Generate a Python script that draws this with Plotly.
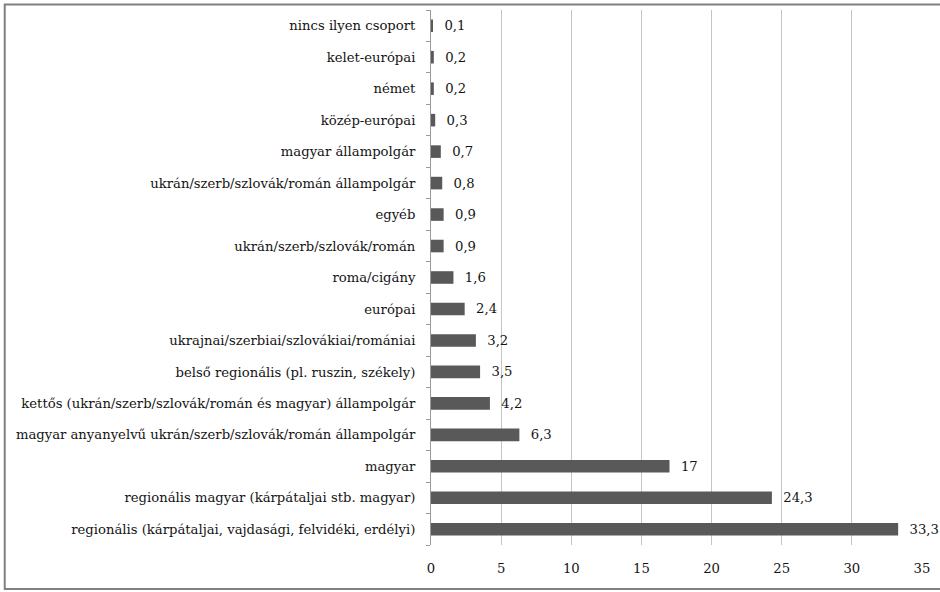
import plotly.graph_objects as go

categories = [
    "regionális (kárpátaljai, vajdasági, felvidéki, erdélyi)",
    "regionális magyar (kárpátaljai stb. magyar)",
    "magyar",
    "magyar anyanyelvű ukrán/szerb/szlovák/román állampolgár",
    "kettős (ukrán/szerb/szlovák/román és magyar) állampolgár",
    "belső regionális (pl. ruszin, székely)",
    "ukrajnai/szerbiai/szlovákiai/romániai",
    "európai",
    "roma/cigány",
    "ukrán/szerb/szlovák/román",
    "egyéb",
    "ukrán/szerb/szlovák/román állampolgár",
    "magyar állampolgár",
    "közép-európai",
    "német",
    "kelet-európai",
    "nincs ilyen csoport",
]
values = [33.3, 24.3, 17, 6.3, 4.2, 3.5, 3.2, 2.4, 1.6, 0.9, 0.9, 0.8, 0.7, 0.3, 0.2, 0.2, 0.1]
x_ticks = [0, 5, 10, 15, 20, 25, 30, 35]

labels = [("%g" % v).replace(".", ",") for v in values]

FONT = "DejaVu Serif"
FS = 13.2
TXT = "#141414"

fig = go.Figure(go.Bar(
    x=values, y=categories, orientation="h",
    marker=dict(color="#595959", line=dict(width=0)),
    text=labels, texttemplate="\u00a0\u00a0%{text}",
    textposition="outside", cliponaxis=False, constraintext="none",
    textfont=dict(family=FONT, size=FS, color=TXT),
    hoverinfo="x+y",
))

W, H = 940, 592
L, R, T, B = 431, 16, 10, 47
pw, ph = W - L - R, H - T - B

fig.update_layout(
    width=W, height=H,
    margin=dict(l=L, r=R, t=T, b=B),
    paper_bgcolor="white", plot_bgcolor="white",
    bargap=0.6, showlegend=False,
    font=dict(family=FONT, size=FS, color=TXT),
    xaxis=dict(range=[0, 35], tickvals=x_ticks, ticktext=[str(t) for t in x_ticks],
               showgrid=True, gridcolor="#c4c4c4", gridwidth=1, zeroline=False,
               showline=False, ticks="", ticklabelstandoff=14,
               tickfont=dict(family=FONT, size=FS, color=TXT)),
    yaxis=dict(type="category", categoryorder="array", categoryarray=categories,
               automargin=False, showline=True, linecolor="#9a9a9a", linewidth=1,
               ticks="outside", ticklen=4, tickcolor="#9a9a9a", tickson="boundaries",
               showgrid=False, ticklabelstandoff=12,
               tickfont=dict(family=FONT, size=FS, color=TXT)),
    shapes=[dict(type="rect", xref="paper", yref="paper",
                 x0=(3 - L) / pw, x1=(W + 5 - L) / pw,
                 y0=-(589 - T - ph) / ph, y1=1 + (T - 4.5) / ph,
                 line=dict(color="#808080", width=2), fillcolor="rgba(0,0,0,0)", layer="above")],
)

fig.write_html("out.html", config={"displayModeBar": False},
               post_script="document.body.style.margin='0';document.body.style.overflow='hidden';")
